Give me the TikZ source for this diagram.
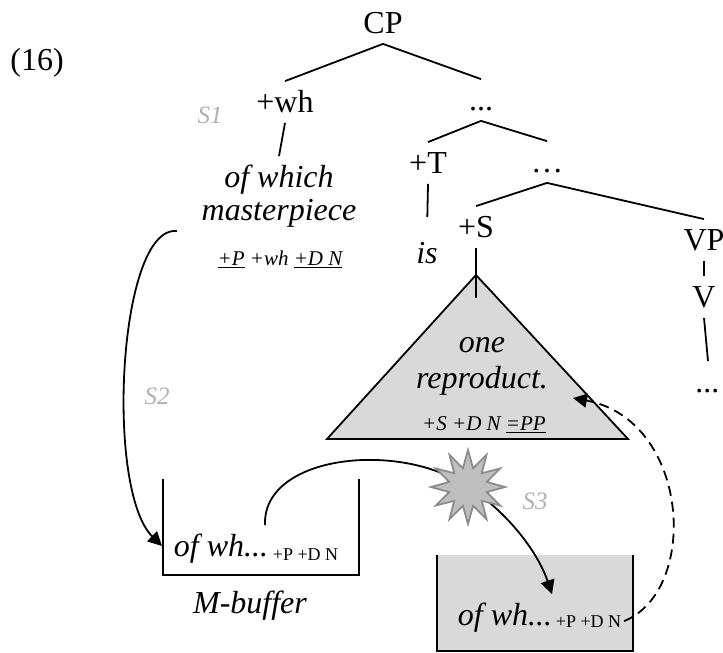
\documentclass[tikz,border=0pt]{standalone}
\usepackage{fontspec}
\setmainfont{Liberation Serif}
\usepackage{tikz}
\usetikzlibrary{shapes.geometric, arrows.meta}

\definecolor{trigray}{HTML}{D9D9D9}
\definecolor{stagegray}{HTML}{B0B0B0}
\definecolor{boomfill}{HTML}{BFBFBF}
\definecolor{boomline}{HTML}{8C8C8C}

\tikzset{
    cat/.style={inner sep=2pt, text height=13pt, text depth=3pt, anchor=base},
    word/.style={cat, font=\fontsize{16}{19}\selectfont\itshape},
    feat/.style={anchor=base, inner sep=1pt, font=\fontsize{10.5}{12}\selectfont\itshape},
    bfeat/.style={anchor=base west, inner sep=1pt, font=\fontsize{9}{11}\selectfont},
    stage/.style={text=stagegray, font=\fontsize{12.5}{15}\selectfont\itshape},
    move/.style={-{Triangle[length=7pt,width=7pt]}},
}

\begin{document}
\begin{tikzpicture}[x=0.5pt, y=-0.5pt, line width=0.9pt, font=\fontsize{16}{19}\selectfont]
    \useasboundingbox (0,0) rectangle (723,653);

    % Example number
    \node (ex) at (37,63) {(16)};

    % Tree nodes
    \node[cat] (CP) at (383,33) {CP};
    \node[cat] (wh) at (285,112) {+wh};
    \node[cat] (dA) at (481,110) {...};
    \node[cat] (T) at (428,173) {+T};
    \node[cat] (dB) at (547,172) {…};
    \node[cat] (S) at (476,237) {+S};
    \node[cat] (VP) at (704,250) {VP};
    \node[cat] (V) at (704,307) {V};
    \node[word] (vdots) at (708,392) {...};

    % Words under the heads
    \node[word] (ofwhich) at (279,187) {of which};
    \node[word] (mstp) at (279,220) {masterpiece};
    \node[feat] (whfeat) at (280,265) {\underline{+P} +wh \underline{+D N}};
    \node[word] (is) at (427,263) {is};

    % Branches
    \draw (CP.south) -- (wh.north);
    \draw (CP.south) -- (dA.north);
    \draw (wh.south) -- (ofwhich.north);
    \draw (dA.south) -- (T.north);
    \draw (dA.south) -- (dB.north);
    \draw[shorten >=7.5pt] (T.south) -- (is.north);
    \draw (dB.south) -- (S.north);
    \draw (dB.south) -- (VP.north);
    \draw (VP.south) -- (V.north);
    \draw (V.south) -- (vdots.north);

    % Triangle under +S
    \coordinate (top) at (476,275);
    \coordinate (bl) at (327,439);
    \coordinate (br) at (628,439);
    \filldraw[fill=trigray] (top) -- (bl) -- (br) -- cycle;
    \draw (S.south) -- (top) -- ++(0,23);
    \node[word] (one) at (482,352) {one};
    \node[word] (repro) at (482,388) {reproduct.};
    \node[feat] (sfeat) at (484,430) {+S +D N \underline{=PP}};

    % M-buffer
    \draw (163,479) -- (163,575) -- (359,575) -- (359,479);
    \node[word, anchor=base west] (mwh) at (169,556) {of wh...};
    \node[bfeat] (mfeat) at (270,560) {+P +D N};
    \node[word] (mbuf) at (250,613) {M-buffer};

    % Lower box
    \fill[trigray] (437,555) rectangle (633,651);
    \draw (437,555) -- (437,651) -- (633,651) -- (633,555);
    \node[word, anchor=base west] (lwh) at (453,625) {of wh...};
    \node[bfeat] (lfeat) at (553,627) {+P +D N};

    % Movements
    \draw[move] ([xshift=-10pt]mstp.south west) .. controls (118,226) and (105,490) .. ([xshift=-3.5pt]mwh.west);
    \coordinate (boomc) at (468,487);
    \draw[move] ([xshift=-4pt]mwh.north east) .. controls (262,455) and (400,440) .. (boomc)
        .. controls (505,510) and (537,550) .. ([xshift=-2.5pt]lwh.north east);
    \node[star, star points=12, star point ratio=1.9, minimum size=37pt, inner sep=0pt,
        fill=boomfill, draw=boomline] (boom) at (boomc) {};
    \coordinate (tgt) at (573,398);
    \draw[move, dash pattern=on 5pt off 3pt] (lfeat.east) .. controls (700,590) and (690,420) .. (tgt);

    % Stages
    \node[stage] (s1) at (210,115) {S1};
    \node[stage] (s2) at (157,396) {S2};
    \node[stage] (s3) at (535,501) {S3};
\end{tikzpicture}
\end{document}
